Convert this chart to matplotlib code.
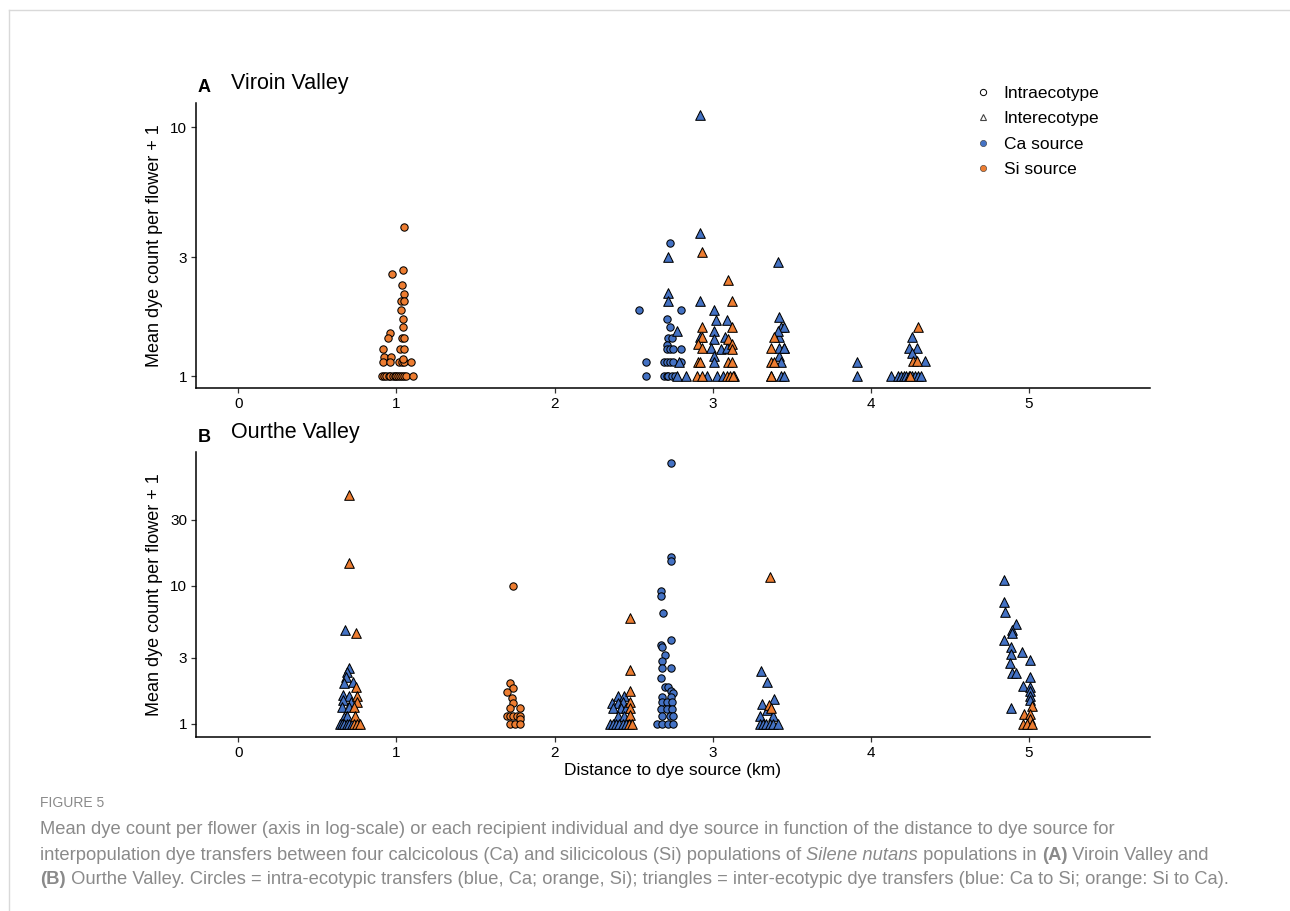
import numpy as np
import matplotlib
matplotlib.use("Agg")
import matplotlib.pyplot as plt
from matplotlib.lines import Line2D

plt.rcParams["font.family"] = ["Liberation Sans", "DejaVu Sans"]

# colours
CA_COL = "#4472C4"
SI_COL = "#ED7D31"

# ---- panel A: Viroin Valley ----
a_si_intra_x = [1.046, 0.973, 1.042, 1.034, 1.046, 1.03, 1.045, 1.03, 1.04, 1.04,
                0.96, 0.945, 1.035, 1.05, 0.915, 1.025, 1.05, 0.918, 0.965, 0.915,
                0.957, 1.015, 1.035, 1.05, 1.09, 1.04,
                0.91, 0.92, 0.935, 0.95, 0.96, 0.975, 0.99, 1.0, 1.01, 1.025,
                1.035, 1.05, 1.06, 1.105]
a_si_intra_y = [3.98, 2.56, 2.66, 2.32, 2.13, 2.0, 2.0, 1.85, 1.70, 1.57,
                1.49, 1.42, 1.42, 1.42, 1.28, 1.28, 1.28, 1.196, 1.196, 1.135,
                1.135, 1.135, 1.135, 1.135, 1.135, 1.167,
                1, 1, 1, 1, 1, 1, 1, 1, 1, 1, 1, 1, 1, 1]

a_ca_intra_x = [2.728, 2.534, 2.80, 2.713, 2.728, 2.72, 2.74, 2.713, 2.71, 2.73,
                2.75, 2.80, 2.58, 2.69, 2.71, 2.73, 2.75, 2.80, 2.58, 2.69,
                2.71, 2.72, 2.74, 2.76]
a_ca_intra_y = [3.42, 1.85, 1.85, 1.70, 1.57, 1.42, 1.42, 1.33, 1.28, 1.28,
                1.28, 1.28, 1.14, 1.14, 1.14, 1.14, 1.14, 1.14, 1, 1,
                1, 1, 1, 1]

a_ca_inter_x = [2.92, 2.92, 2.717, 3.41, 2.717, 2.717, 2.918, 3.006, 3.02, 3.09,
                3.42, 3.43, 3.45, 2.776, 3.006, 3.08, 2.92, 3.006, 3.42, 2.99,
                3.05, 3.09, 3.45, 3.01, 3.42, 3.01, 2.787, 3.43, 3.915, 4.34,
                4.26, 4.24, 4.29, 4.26, 3.415, 3.42, 3.45,
                2.776, 2.83, 2.966, 3.03, 3.065, 3.135, 3.37, 3.43, 3.45, 3.915,
                4.13, 4.17, 4.19, 4.21, 4.22, 4.24, 4.26, 4.28, 4.30, 4.32]
a_ca_inter_y = [11.2, 3.74, 3.01, 2.87, 2.16, 2.01, 2.01, 1.84, 1.68, 1.68,
                1.72, 1.58, 1.58, 1.51, 1.51, 1.43, 1.43, 1.41, 1.43, 1.29,
                1.28, 1.29, 1.29, 1.20, 1.20, 1.14, 1.14, 1.14, 1.14, 1.15,
                1.44, 1.30, 1.30, 1.24, 1.51, 1.29, 1.29,
                1, 1, 1, 1, 1, 1, 1, 1, 1, 1,
                1, 1, 1, 1, 1, 1, 1, 1, 1, 1]

a_si_inter_x = [2.93, 3.097, 3.12, 2.93, 3.12, 2.93, 3.097, 2.91, 3.12, 2.93,
                3.12, 2.905, 2.92, 3.097, 3.12, 3.385, 3.37, 3.37, 3.385, 4.30,
                4.265, 4.29,
                2.90, 2.93, 3.09, 3.11, 3.13, 3.37, 4.25]
a_si_inter_y = [3.14, 2.43, 2.01, 1.57, 1.57, 1.43, 1.41, 1.35, 1.35, 1.29,
                1.28, 1.14, 1.14, 1.14, 1.14, 1.43, 1.29, 1.14, 1.14, 1.58,
                1.15, 1.15,
                1, 1, 1, 1, 1, 1, 1]

# ---- panel B: Ourthe Valley ----
b_si_intra_x = [1.736, 1.715, 1.738, 1.696, 1.73, 1.736, 1.72, 1.78, 1.696, 1.72,
                1.74, 1.76, 1.78, 1.78, 1.72, 1.75, 1.78]
b_si_intra_y = [9.95, 1.99, 1.83, 1.71, 1.55, 1.41, 1.30, 1.30, 1.14, 1.14,
                1.14, 1.14, 1.14, 1.087, 1, 1, 1]

b_ca_intra_x = [2.736, 2.735, 2.735, 2.675, 2.67, 2.684, 2.736, 2.67, 2.68, 2.696,
                2.68, 2.677, 2.735, 2.67, 2.696, 2.72, 2.735, 2.75, 2.677, 2.735,
                2.68, 2.71, 2.745, 2.67, 2.71, 2.745, 2.68, 2.73, 2.75, 2.65,
                2.68, 2.72, 2.75]
b_ca_intra_y = [76.7, 16.0, 15.2, 9.16, 8.42, 6.35, 4.03, 3.75, 3.59, 3.15,
                2.87, 2.55, 2.55, 2.14, 1.84, 1.84, 1.74, 1.67, 1.56, 1.56,
                1.43, 1.43, 1.43, 1.28, 1.28, 1.28, 1.14, 1.14, 1.14, 1,
                1, 1, 1]

b_ca_inter_x = [0.675, 0.698, 0.69, 0.683, 0.67, 0.726, 0.66, 0.698, 0.66, 0.71,
                0.655, 0.70, 0.666, 0.69, 0.64, 0.655, 0.67, 0.685, 0.70, 0.72,
                2.40, 2.44, 2.365, 2.40, 2.43, 2.37, 2.42, 2.45, 2.40, 2.44,
                2.35, 2.37, 2.39, 2.41, 2.43, 2.45,
                3.304, 3.346, 3.39, 3.31, 3.345, 3.30, 3.38, 3.30, 3.32, 3.34,
                3.36, 3.38, 3.41,
                4.84, 4.84, 4.846, 4.92, 4.89, 4.89, 4.845, 4.886, 4.956, 4.886,
                5.004, 4.88, 4.89, 4.92, 5.005, 4.963, 5.005, 5.005, 5.005, 5.005,
                4.886]
b_ca_inter_y = [4.78, 2.53, 2.37, 2.20, 1.97, 2.02, 1.62, 1.59, 1.49, 1.43,
                1.33, 1.33, 1.13, 1.14, 1, 1, 1, 1, 1, 1,
                1.59, 1.59, 1.41, 1.41, 1.45, 1.30, 1.30, 1.30, 1.14, 1.14,
                1, 1, 1, 1, 1, 1,
                2.42, 2.01, 1.52, 1.39, 1.26, 1.14, 1.14, 1, 1, 1,
                1, 1, 1,
                11.0, 7.59, 6.42, 5.26, 4.78, 4.52, 4.05, 3.62, 3.33, 3.21,
                2.90, 2.75, 2.33, 2.33, 2.17, 1.88, 1.86, 1.72, 1.59, 1.50,
                1.30]

b_si_inter_x = [0.70, 0.70, 0.747, 0.747, 0.75, 0.75, 0.73, 0.74, 0.73, 0.75, 0.77,
                2.48, 2.477, 2.475, 2.477, 2.48, 2.477, 2.47, 2.49,
                3.36, 3.356, 3.367,
                5.017, 4.97, 5.01, 5.01, 4.96, 4.99, 5.02]
b_si_inter_y = [45.3, 14.5, 4.53, 1.86, 1.59, 1.43, 1.33, 1.14, 1, 1, 1,
                5.84, 2.46, 1.73, 1.45, 1.30, 1.16, 1, 1,
                11.6, 1.37, 1.30,
                1.35, 1.18, 1.18, 1.08, 1, 1, 1]

x_ticks = [0, 1, 2, 3, 4, 5]
a_yticks = [1, 3, 10]
b_yticks = [1, 3, 10, 30]

fig = plt.figure(figsize=(12.9, 9.11), dpi=100)
W, H = 1290, 911


def px_axes(left, right, top, bottom):
    return fig.add_axes([left / W, 1 - bottom / H, (right - left) / W, (bottom - top) / H])


def draw_panel(ax, groups, yticks, ylim):
    for xs, ys, marker, col, size in groups:
        ax.scatter(xs, ys, marker=marker, s=size, facecolor=col,
                   edgecolor="black", linewidth=0.75, zorder=3)
    ax.set_yscale("log")
    ax.set_xlim(-0.268, 5.766)
    ax.set_ylim(*ylim)
    ax.set_xticks(x_ticks)
    ax.set_xticklabels([str(t) for t in x_ticks])
    ax.set_yticks(yticks)
    ax.set_yticklabels([str(t) for t in yticks])
    ax.minorticks_off()
    for side in ["top", "right"]:
        ax.spines[side].set_visible(False)
    for side in ["left", "bottom"]:
        ax.spines[side].set_linewidth(1.1)
    ax.tick_params(axis="both", length=3.5, width=0.9, color="#333333",
                   labelsize=11, labelcolor="black", pad=3)
    ax.set_ylabel("Mean dye count per flower + 1", fontsize=13, labelpad=5)


CIRC = 28
TRI = 48

ax_a = px_axes(196, 1150, 103, 388)
draw_panel(ax_a, [
    (a_si_intra_x, a_si_intra_y, "o", SI_COL, CIRC),
    (a_ca_intra_x, a_ca_intra_y, "o", CA_COL, CIRC),
    (a_ca_inter_x, a_ca_inter_y, "^", CA_COL, TRI),
    (a_si_inter_x, a_si_inter_y, "^", SI_COL, TRI),
], a_yticks, (0.895, 12.5))

ax_b = px_axes(196, 1150, 452, 737)
draw_panel(ax_b, [
    (b_ca_inter_x, b_ca_inter_y, "^", CA_COL, TRI),
    (b_si_inter_x, b_si_inter_y, "^", SI_COL, TRI),
    (b_si_intra_x, b_si_intra_y, "o", SI_COL, CIRC),
    (b_ca_intra_x, b_ca_intra_y, "o", CA_COL, CIRC),
], b_yticks, (0.805, 92.6))
ax_b.set_xlabel("Distance to dye source (km)", fontsize=12.5, labelpad=2)

# panel titles
fig.text(198 / W, 1 - 88 / H, "A", fontsize=13, fontweight="bold", va="center")
fig.text(231 / W, 1 - 84 / H, "Viroin Valley", fontsize=15.5, va="center")
fig.text(198 / W, 1 - 437 / H, "B", fontsize=13, fontweight="bold", va="center")
fig.text(231 / W, 1 - 433 / H, "Ourthe Valley", fontsize=15.5, va="center")

# legend
handles = [
    Line2D([], [], linestyle="none", marker="o", markersize=4.5,
           markerfacecolor="white", markeredgecolor="black", markeredgewidth=0.7),
    Line2D([], [], linestyle="none", marker="^", markersize=5,
           markerfacecolor="white", markeredgecolor="#444444", markeredgewidth=0.8),
    Line2D([], [], linestyle="none", marker="o", markersize=4.5,
           markerfacecolor=CA_COL, markeredgecolor="#333333", markeredgewidth=0.4),
    Line2D([], [], linestyle="none", marker="o", markersize=4.5,
           markerfacecolor=SI_COL, markeredgecolor="#333333", markeredgewidth=0.4),
]
labels = ["Intraecotype", "Interecotype", "Ca source", "Si source"]
fig.legend(handles, labels, loc="upper left", bbox_to_anchor=(974 / W, 1 - 86 / H),
           frameon=False, fontsize=12.5, handlelength=1.0, handletextpad=0.7,
           labelspacing=0.58, borderaxespad=0, borderpad=0)

# caption
CAP_COL = "#8a8a8a"
CAP_SIZE = 13.25
fig.text(40 / W, 1 - 803 / H, "FIGURE 5", fontsize=10, color=CAP_COL, va="center")

caption_lines = [
    [("Mean dye count per flower (axis in log-scale) or each recipient individual and dye "
      "source in function of the distance to dye source for", "normal", "normal")],
    [("interpopulation dye transfers between four calcicolous (Ca) and silicicolous (Si) "
      "populations of ", "normal", "normal"),
     ("Silene nutans", "italic", "normal"),
     (" populations in ", "normal", "normal"),
     ("(A)", "normal", "bold"),
     (" Viroin Valley and", "normal", "normal")],
    [("(B)", "normal", "bold"),
     (" Ourthe Valley. Circles = intra-ecotypic transfers (blue, Ca; orange, Si); triangles = "
      "inter-ecotypic dye transfers (blue: Ca to Si; orange: Si to Ca).", "normal", "normal")],
]
line_y = [830, 856, 880]
for pieces, ypx in zip(caption_lines, line_y):
    last = None
    for txt, style, weight in pieces:
        if last is None:
            last = fig.text(40 / W, 1 - ypx / H, txt, fontsize=CAP_SIZE, color=CAP_COL,
                            style=style, fontweight=weight, va="center")
        else:
            last = ax_b.annotate(txt, xy=(1, 0.5), xycoords=last, va="center", ha="left",
                                 fontsize=CAP_SIZE, color=CAP_COL, style=style,
                                 fontweight=weight, annotation_clip=False)

# thin frame lines
fig.add_artist(Line2D([9 / W, 1], [1 - 10 / H, 1 - 10 / H], transform=fig.transFigure,
                      color="#d9d9d9", linewidth=1))
fig.add_artist(Line2D([9 / W, 9 / W], [0, 1 - 10 / H], transform=fig.transFigure,
                      color="#d9d9d9", linewidth=1))

fig.savefig("out.png", dpi=100)
